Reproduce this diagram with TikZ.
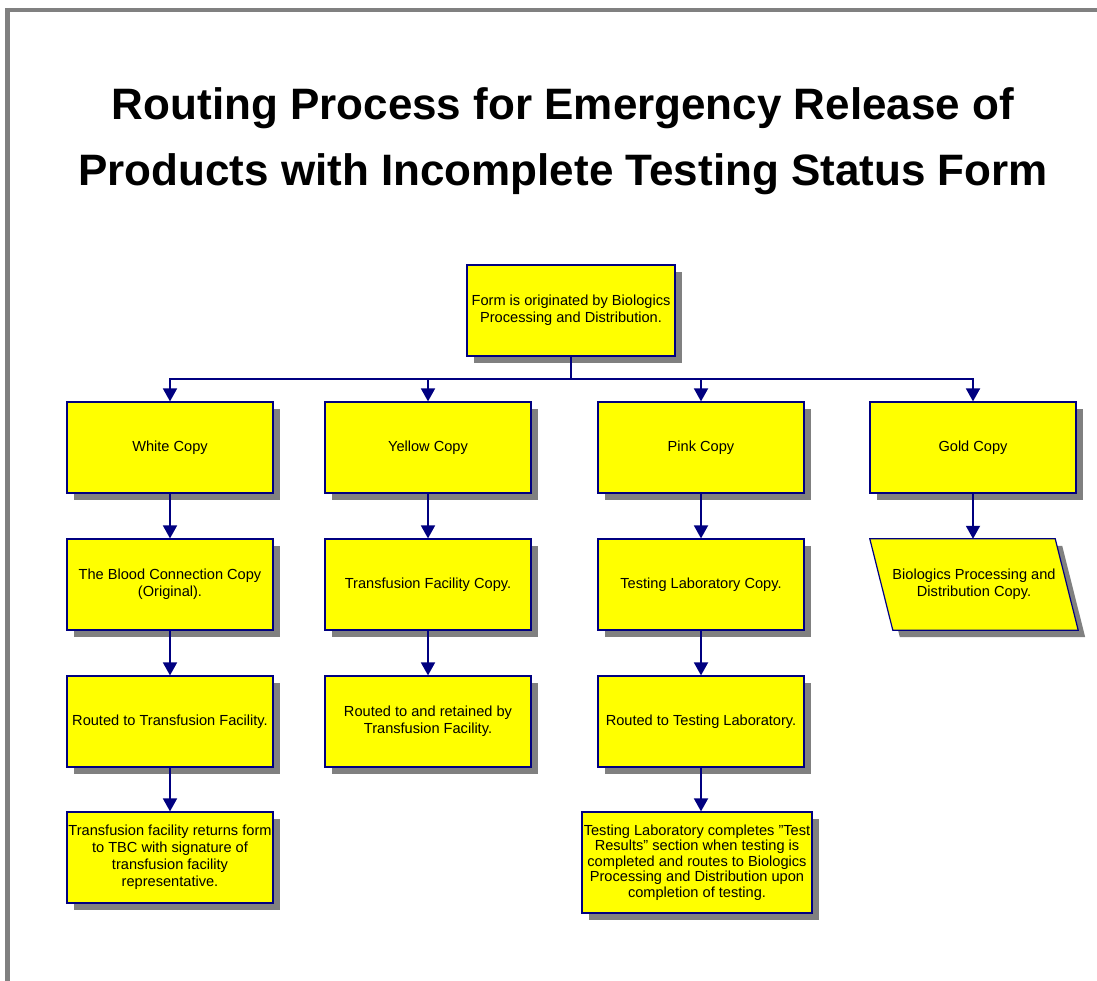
\documentclass[tikz,border=0pt]{standalone}
\usepackage{fontspec}
\setmainfont{Liberation Sans}
\usetikzlibrary{arrows.meta,shadows}
\definecolor{navy}{HTML}{000080}
\definecolor{lemon}{HTML}{FFFF00}
\definecolor{frame}{HTML}{808080}
\tikzset{boxtext/.style={align=center,text=black,font=\fontsize{14.6}{17}\selectfont,minimum width=206pt,minimum height=91pt,inner sep=0pt}, stepbox/.style={boxtext,draw=navy,fill=lemon,line width=1.2pt,drop shadow={shadow xshift=7pt,shadow yshift=-7pt,fill=frame,opacity=1}}, flow/.style={-{Triangle[length=13pt,width=14pt]},line width=1.8pt,draw=navy}}

\begin{document}
\begin{tikzpicture}[x=1pt,y=-1pt]
\useasboundingbox (0,0) rectangle (1097,981);
\draw[frame,line width=4pt] (5,10) -- (1097,10);
\draw[frame,line width=5pt] (7.5,8) -- (7.5,981);
\node[font=\fontsize{44}{66}\selectfont\bfseries,align=center] (title) at (563,141) {Routing Process for Emergency Release of\\Products with Incomplete Testing Status Form};
\node[stepbox,minimum width=208pt] (form) at (571,310.5) {Form is originated by Biologics\\Processing and Distribution.};
\node[stepbox] (white) at (170,447.5) {White Copy};
\node[stepbox] (yellow) at (428,447.5) {Yellow Copy};
\node[stepbox] (pink) at (701,447.5) {Pink Copy};
\node[stepbox] (gold) at (973,447.5) {Gold Copy};
\node[stepbox] (tbc) at (170,584.5) {The Blood Connection Copy\\(Original).};
\node[stepbox] (facility) at (428,584.5) {Transfusion Facility Copy.};
\node[stepbox] (lab) at (701,584.5) {Testing Laboratory Copy.};
\node[boxtext,minimum width=208pt] (bpd) at (974,584.5) {};
\fill[frame,transform canvas={xshift=7pt,yshift=-7pt}] (bpd.north west) -- ([xshift=-23pt]bpd.north east) -- (bpd.south east) -- ([xshift=23pt]bpd.south west) -- cycle;
\filldraw[draw=navy,fill=lemon,line width=1.2pt] (bpd.north west) -- ([xshift=-23pt]bpd.north east) -- (bpd.south east) -- ([xshift=23pt]bpd.south west) -- cycle;
\node[boxtext] at (bpd.center) {Biologics Processing and\\Distribution Copy.};
\node[stepbox] (tofac) at (170,721.5) {Routed to Transfusion Facility.};
\node[stepbox] (kept) at (428,721.5) {Routed to and retained by\\Transfusion Facility.};
\node[stepbox] (tolab) at (701,721.5) {Routed to Testing Laboratory.};
\node[stepbox] (back) at (170,857.5) {Transfusion facility returns form\\to TBC with signature of\\transfusion facility\\representative.};
\node[stepbox,font=\fontsize{14.6}{15.4}\selectfont,minimum width=230pt,minimum height=101pt] (results) at (697,862.5) {Testing Laboratory completes "Test\\Results" section when testing is\\completed and routes to Biologics\\Processing and Distribution upon\\completion of testing.};
\draw[flow] (form.south) -- ++(0,22) -| (white.north);
\draw[flow] (form.south) -- ++(0,22) -| (yellow.north);
\draw[flow] (form.south) -- ++(0,22) -| (pink.north);
\draw[flow] (form.south) -- ++(0,22) -| (gold.north);
\draw[flow] (white) -- (tbc);
\draw[flow] (tbc) -- (tofac);
\draw[flow] (tofac) -- (back);
\draw[flow] (yellow) -- (facility);
\draw[flow] (facility) -- (kept);
\draw[flow] (pink) -- (lab);
\draw[flow] (lab) -- (tolab);
\draw[flow] (tolab.south) -- (tolab.south|-results.north);
\draw[flow] (gold) -- (gold|-bpd.north);
\end{tikzpicture}
\end{document}
